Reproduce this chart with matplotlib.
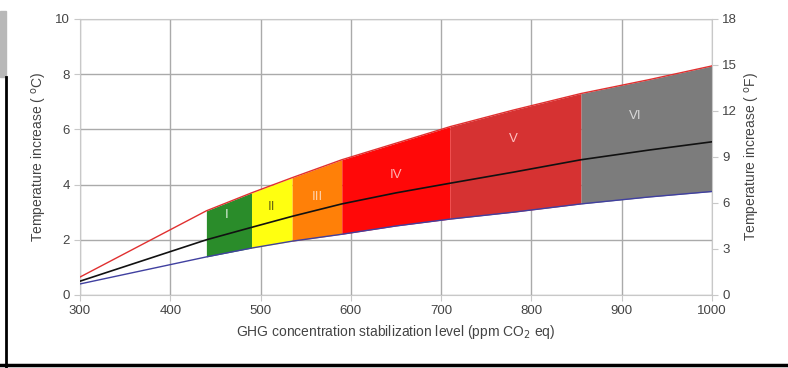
import numpy as np
import matplotlib
matplotlib.use("Agg")
import matplotlib.pyplot as plt
from matplotlib.lines import Line2D
from matplotlib.patches import Rectangle

plt.rcParams['font.family'] = ['Liberation Sans', 'DejaVu Sans']

# GHG concentration (ppm CO2 eq) and equilibrium warming (deg C)
ppm = [300, 440, 490, 535, 590, 650, 710, 780, 855, 930, 1000]
upper = [0.65, 3.05, 3.7, 4.25, 4.9, 5.5, 6.1, 6.7, 7.3, 7.8, 8.3]
best = [0.5, 2.0, 2.45, 2.85, 3.3, 3.7, 4.05, 4.45, 4.9, 5.25, 5.55]
lower = [0.4, 1.38, 1.7, 1.95, 2.2, 2.5, 2.75, 3.0, 3.3, 3.55, 3.75]

# stabilization categories: name, start ppm, end ppm
cat_names = ['I', 'II', 'III', 'IV', 'V', 'VI']
cat_start = [440, 490, 535, 590, 710, 855]
cat_end = [490, 535, 590, 710, 855, 1000]
cat_colors = ['#2a8c2a', '#ffff10', '#ff8008', '#ff0808', '#d63232', '#7c7c7c']
label_colors = ['#d8ecd8', '#6a6a10', '#ffd0a8', '#ffb0b0', '#ffc0c0', '#d8d8d8']
label_pos = [(462, 2.9), (512, 3.2), (563, 3.55), (650, 4.35), (780, 5.65), (915, 6.5)]

x = np.array(ppm)
hi = np.array(upper)
mid = np.array(best)
lo = np.array(lower)

fig = plt.figure(figsize=(7.88, 3.68), dpi=100)
ax = fig.add_axes([0.1015, 0.1984, 0.802, 0.75])

for i in range(len(cat_names)):
    m = (x >= cat_start[i]) & (x <= cat_end[i])
    ax.fill_between(x[m], lo[m], hi[m], color=cat_colors[i], lw=0, zorder=2)
    ax.text(label_pos[i][0], label_pos[i][1], cat_names[i], color=label_colors[i],
            fontsize=9.5, ha='center', va='center', zorder=4)

ax.plot(x, hi, color='#e03030', lw=1.0, zorder=3)
ax.plot(x, mid, color='#111111', lw=1.2, zorder=3)
ax.plot(x, lo, color='#4040a0', lw=1.0, zorder=3)

ax.set_xlim(300, 1000)
ax.set_ylim(0, 10)
ax.set_xticks(range(300, 1001, 100))
ax.set_yticks(range(0, 11, 2))
ax.grid(True, color='#aaaaaa', lw=1.0, zorder=0)
ax.set_axisbelow(True)
for s in ax.spines.values():
    s.set_color('#c8c8c8')
ax.tick_params(colors='#444444', labelsize=9.5, length=4, color='#c8c8c8')
ax.set_xlabel('GHG concentration stabilization level (ppm CO$_2$ eq)', color='#444444', fontsize=10)
ax.set_ylabel('Temperature increase ( $^{\\rm o}$C)', color='#444444', fontsize=10)

ax2 = ax.twinx()
ax2.set_ylim(0, 18)
ax2.set_yticks(range(0, 19, 3))
ax2.tick_params(colors='#444444', labelsize=9.5, length=4, color='#c8c8c8')
for s in ax2.spines.values():
    s.set_visible(False)
ax2.set_ylabel('Temperature increase ( $^{\\rm o}$F)', color='#444444', fontsize=10)

# scan frame remnants around the figure
fig.add_artist(Line2D([0.008, 0.008], [0.0, 0.79], color='black', lw=2))
fig.add_artist(Line2D([0.0, 1.0], [0.007, 0.007], color='black', lw=2.5))
fig.add_artist(Rectangle((0.0, 0.79), 0.008, 0.18, color='#b8b8b8'))

fig.savefig('out.png', dpi=100)
